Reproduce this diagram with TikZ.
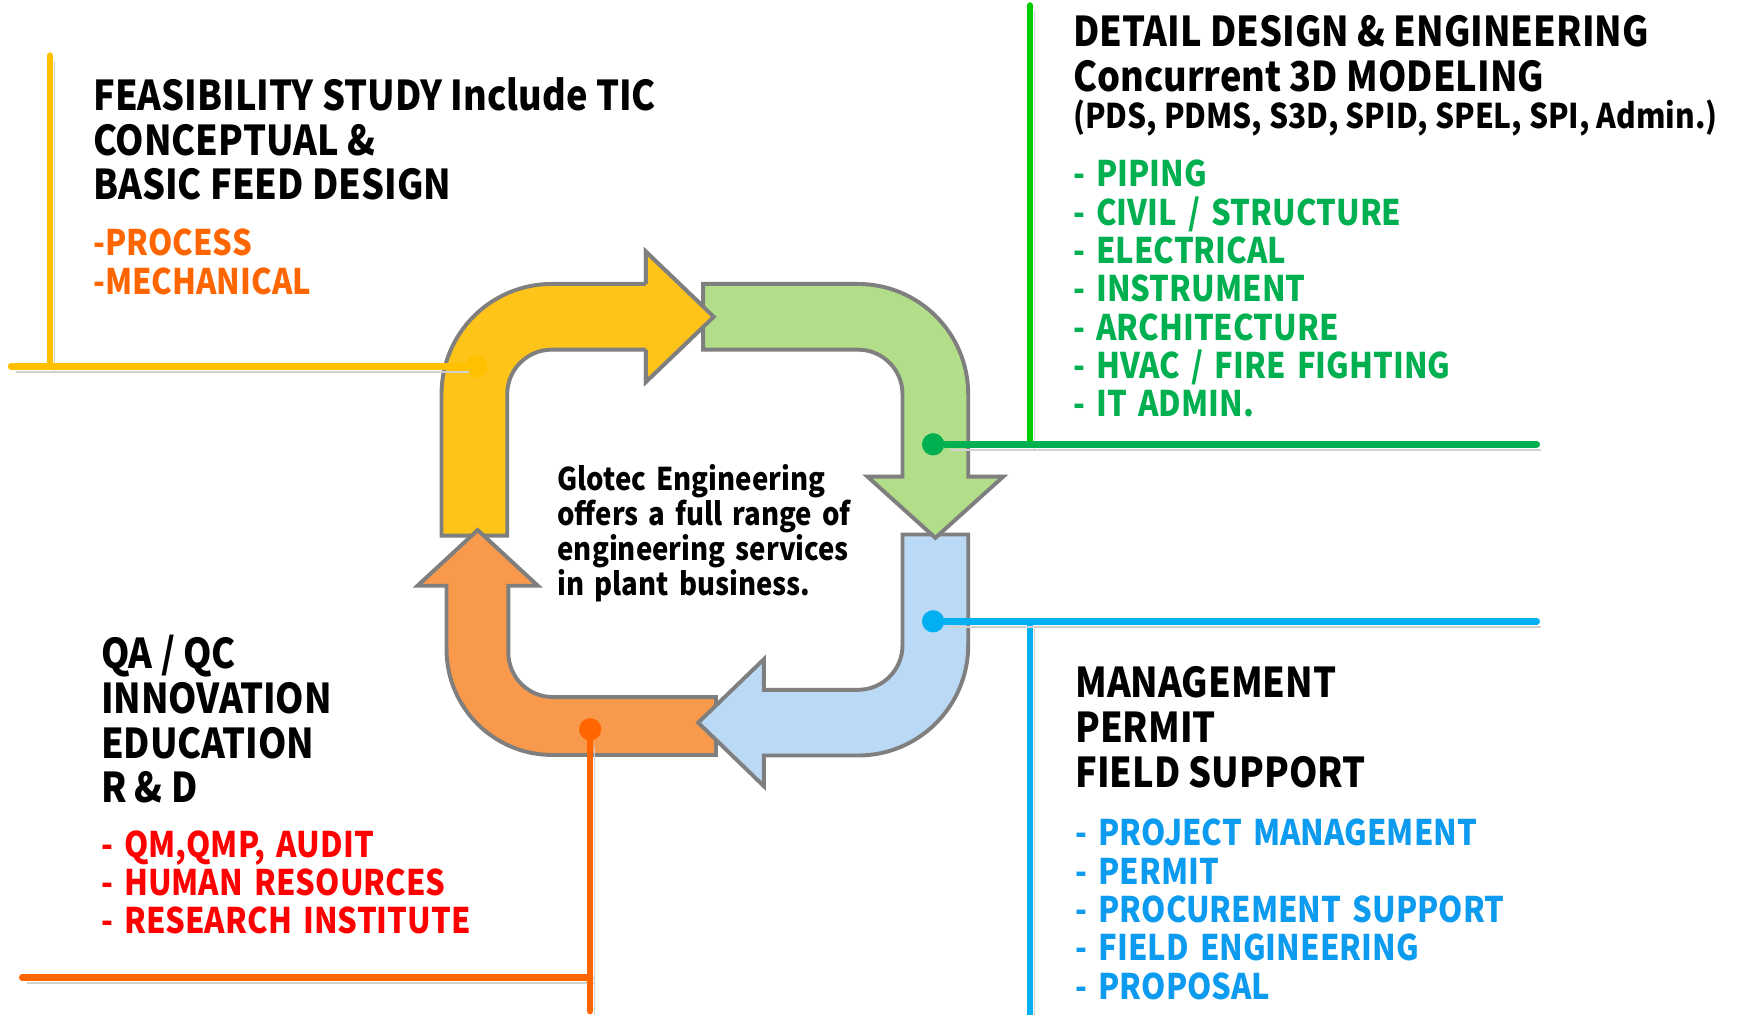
\documentclass[tikz,border=0pt]{standalone}
\usepackage{fontspec}
\setmainfont{Noto Sans CJK KR}[FakeStretch=0.88]
\newfontfamily\widefont{Noto Sans CJK KR}[FakeStretch=0.88,WordSpace=1.6]
\newcommand{\lead}{-\hspace{0.32em}}
\definecolor{edgeGray}{HTML}{7F7F7F}
\definecolor{fillYellow}{HTML}{FFC41A}
\definecolor{fillGreen}{HTML}{B3DE89}
\definecolor{fillBlue}{HTML}{BAD9F5}
\definecolor{fillOrange}{HTML}{F8994C}
\definecolor{lineYellow}{HTML}{FFC000}
\definecolor{lineGreen}{HTML}{00B050}
\definecolor{lineLime}{HTML}{00CC00}
\definecolor{lineBlue}{HTML}{00B0F0}
\definecolor{lineOrange}{HTML}{FF6600}
\definecolor{txtOrange}{HTML}{FF6600}
\definecolor{txtGreen}{HTML}{00B050}
\definecolor{txtRed}{HTML}{FF0000}
\definecolor{txtBlue}{HTML}{0D9BEF}
\begin{document}
\begin{tikzpicture}[x=0.1mm,y=-0.1mm,
    band/.style={draw=edgeGray,line width=1pt,line join=miter},
    spoke/.style={line width=1.7pt,line cap=round,
        preaction={draw=black!18,transform canvas={shift={(0.4mm,-0.5mm)}}}},
    dot/.style={circle,inner sep=0pt,minimum size=2mm},
    head/.style={anchor=north west,inner sep=0pt,align=left,
        font=\bfseries\fontsize{10.5}{11.4}\selectfont},
    items/.style={anchor=north west,inner sep=0pt,align=left,
        font=\widefont\bfseries\fontsize{9.0}{9.8}\selectfont},
    note/.style={anchor=north west,inner sep=0pt,align=left,
        font=\widefont\bfseries\fontsize{8.0}{9.0}\selectfont}]
\useasboundingbox (0,0) rectangle (1568,911);
\fill[white] (0,0) rectangle (1568,911);
% cycle of four bent arrows
\draw[band,fill=fillYellow]
    (396.5,481) -- (396.5,354) .. controls (396.5,299.3) and (440.8,255) .. (495.5,255)
    -- (580,255) -- (580,226) -- (641,284.5) -- (580,343) -- (580,314)
    -- (495.5,314) .. controls (473.4,314) and (455.5,331.9) .. (455.5,354)
    -- (455.5,481) -- cycle;
\draw[band,fill=fillOrange]
    (643,626) -- (643,678) -- (496,678) .. controls (443.5,678) and (401,635.5) .. (401,583)
    -- (401,526) -- (375,526) -- (429,476) -- (483,526) -- (456.5,526)
    -- (456.5,586) .. controls (456.5,608.1) and (474.4,626) .. (496.5,626) -- cycle;
\draw[band,fill=fillBlue]
    (810.5,480) -- (869.5,480) -- (869.5,579.5) .. controls (869.5,634.2) and (825.2,678.5) .. (770.5,678.5)
    -- (686,678.5) -- (686,706) -- (627,649) -- (686,592) -- (686,619.5)
    -- (770.5,619.5) .. controls (792.6,619.5) and (810.5,601.6) .. (810.5,579.5) -- cycle;
\draw[band,fill=fillGreen]
    (631.5,255) -- (770.5,255) .. controls (825.2,255) and (869.5,299.3) .. (869.5,354)
    -- (869.5,428) -- (901,428) -- (840,483) -- (779,428) -- (810.5,428)
    -- (810.5,354) .. controls (810.5,331.9) and (792.6,314) .. (770.5,314)
    -- (631.5,314) -- cycle;
% yellow tip lies over the green band
\fill[fillYellow] (580,256) -- (580,226) -- (641,284.5) -- (580,343) -- (580,313) -- cycle;
\draw[band] (580,255) -- (580,226) -- (641,284.5) -- (580,343) -- (580,314);
% spokes
\node[dot,fill=lineYellow] (feasDot) at (428,329) {};
\node[dot,fill=lineGreen] (detailDot) at (838,399) {};
\node[dot,fill=lineBlue] (mgmtDot) at (838,558) {};
\node[dot,fill=lineOrange] (qaDot) at (530,655) {};
\coordinate (feasEnd) at (10,329);
\coordinate (feasTop) at (45,50);
\coordinate (feasFoot) at (45,329);
\coordinate (detailEnd) at (1380,399);
\coordinate (detailTop) at (925,5);
\coordinate (detailFoot) at (925,399);
\coordinate (mgmtEnd) at (1380,558);
\coordinate (mgmtTop) at (925,558);
\coordinate (mgmtFoot) at (925,911);
\coordinate (qaFoot) at (530,908);
\coordinate (qaEnd) at (20,878);
\coordinate (qaJoin) at (530,878);
\draw[spoke,lineYellow] (feasTop) -- (feasFoot);
\draw[spoke,lineYellow] (feasDot) -- (feasEnd);
\draw[spoke,lineLime] (detailTop) -- (detailFoot);
\draw[spoke,lineGreen] (detailDot) -- (detailEnd);
\draw[spoke,lineBlue] (mgmtTop) -- (mgmtFoot);
\draw[spoke,lineBlue] (mgmtDot) -- (mgmtEnd);
\draw[spoke,lineOrange] (qaEnd) -- (qaJoin);
\draw[spoke,lineOrange] (qaDot) -- (qaFoot);
% texts
\node[head] (feasTitle) at (83,69)
    {FEASIBILITY STUDY Include TIC\\CONCEPTUAL \&\\BASIC FEED DESIGN};
\node[items,text=txtOrange] (feasList) at (83,205) {-PROCESS\\-MECHANICAL};
\node[head] (detailTitle) at (963,13)
    {DETAIL DESIGN \& ENGINEERING\\Concurrent 3D MODELING};
\node[anchor=base west,inner sep=0pt,font=\bfseries\fontsize{8.7}{9.8}\selectfont]
    (detailTools) at (963,115) {(PDS, PDMS, S3D, SPID, SPEL, SPI, Admin.)};
\node[items,text=txtGreen] (detailList) at (963,143)
    {\lead PIPING\\\lead CIVIL / STRUCTURE\\\lead ELECTRICAL\\\lead INSTRUMENT\\\lead ARCHITECTURE\\\lead HVAC / FIRE FIGHTING\\\lead IT ADMIN.};
\node[note] (centerNote) at (500,416)
    {Glotec Engineering\\offers a full range of\\engineering services\\in plant business.};
\node[head] (qaTitle) at (90,570) {QA / QC\\INNOVATION\\EDUCATION\\R \& D};
\node[items,text=txtRed] (qaList) at (90,745)
    {\lead QM,QMP, AUDIT\\\lead HUMAN RESOURCES\\\lead RESEARCH INSTITUTE};
\node[head] (mgmtTitle) at (965,598) {MANAGEMENT\\PERMIT\\FIELD SUPPORT};
\node[items,text=txtBlue] (mgmtList) at (965,735)
    {\lead PROJECT MANAGEMENT\\\lead PERMIT\\\lead PROCUREMENT SUPPORT\\\lead FIELD ENGINEERING\\\lead PROPOSAL};
\end{tikzpicture}
\end{document}
